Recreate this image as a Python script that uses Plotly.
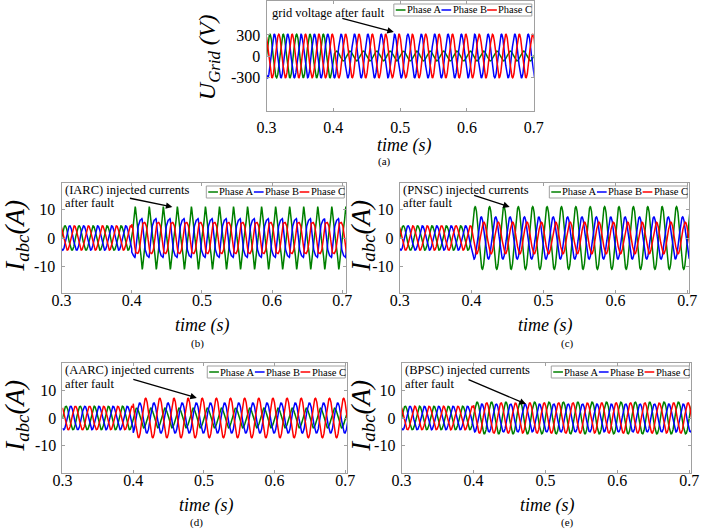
import numpy as np
import plotly.graph_objects as go

W, H = 708, 530
FONT = "Liberation Serif, Times New Roman, Times, serif"

# ---------------- data ----------------
f_grid = 50.0          # Hz
t_fault = 0.4          # s
t_first, t_last, t_step = 0.30, 0.7105, 0.0001

phase_names = ["Phase A", "Phase B", "Phase C"]
phase_colors = ["#008000", "#0000ff", "#ff0000"]
phase_angle_pre = [0.0, -120.0, 120.0]     # deg, all panels before fault

x_tick_vals = [0.3, 0.4, 0.5, 0.6, 0.7]
x_tick_text = ["0.3", "0.4", "0.5", "0.6", "0.7"]
v_tick_vals = [-300, 0, 300]
v_tick_text = ["-300", "0", "300"]
i_tick_vals = [-10, 0, 10]
i_tick_text = ["-10", "0", "10"]

# (a) grid voltage: amplitude before / after fault
volt_pre_amp = [311.0, 311.0, 311.0]
volt_post_amp = [70.0, 311.0, 311.0]
volt_post_angle = [0.0, -120.0, 120.0]

# currents before the fault (all strategies)
cur_pre_amp = [4.3, 4.3, 4.3]

# after-fault currents: harmonic orders, amplitudes (A), angles (deg) per phase
# (b) IARC
iarc_orders = [1, 3, 5, 7]
iarc_amp_A = [8.5, 1.6, 0.6, 0.3]
iarc_ang_A = [0.0, 180.0, 0.0, 180.0]
iarc_amp_B = [7.0, 0.88, 0.33, 0.165]
iarc_ang_B = [-135.7, 0.0, 180.0, 0.0]
iarc_amp_C = [6.0, 0.72, 0.27, 0.135]
iarc_ang_C = [125.5, 0.0, 180.0, 0.0]
# (c) PNSC
pnsc_amp = [11.0, 7.4, 5.6]
pnsc_ang = [0.0, -152.5, 142.4]
# (d) AARC
aarc_amp = [3.6, 5.5, 7.2]
aarc_ang = [0.0, -77.4, 131.8]
# (e) BPSC
bpsc_amp = [5.8, 5.1, 5.5]
bpsc_ang = [0.0, -120.0, 120.0]

# ---------------- waveform construction ----------------
t = np.arange(t_first, t_last, t_step)
theta = 2 * np.pi * f_grid * t
after = t >= t_fault


def harmonic_sum(orders, amps, angs):
    out = np.zeros_like(theta)
    for h, a, g in zip(orders, amps, angs):
        out += a * np.sin(h * theta + np.deg2rad(g))
    return out


def phase_wave(pre_amp, pre_ang, orders, amps, angs):
    pre = pre_amp * np.sin(theta + np.deg2rad(pre_ang))
    post = harmonic_sum(orders, amps, angs)
    return np.where(after, post, pre)


panel_waves = {
    "a": [phase_wave(volt_pre_amp[k], phase_angle_pre[k], [1], [volt_post_amp[k]], [volt_post_angle[k]]) for k in range(3)],
    "b": [phase_wave(cur_pre_amp[0], phase_angle_pre[0], iarc_orders, iarc_amp_A, iarc_ang_A),
          phase_wave(cur_pre_amp[1], phase_angle_pre[1], iarc_orders, iarc_amp_B, iarc_ang_B),
          phase_wave(cur_pre_amp[2], phase_angle_pre[2], iarc_orders, iarc_amp_C, iarc_ang_C)],
    "c": [phase_wave(cur_pre_amp[k], phase_angle_pre[k], [1], [pnsc_amp[k]], [pnsc_ang[k]]) for k in range(3)],
    "d": [phase_wave(cur_pre_amp[k], phase_angle_pre[k], [1], [aarc_amp[k]], [aarc_ang[k]]) for k in range(3)],
    "e": [phase_wave(cur_pre_amp[k], phase_angle_pre[k], [1], [bpsc_amp[k]], [bpsc_ang[k]]) for k in range(3)],
}

# ---------------- layout specification (pixels) ----------------
panels = [
    dict(key="a", box=(264, 1, 539, 111), xr=[0.3, 0.7], yr=[-785, 785], volt=True, xso=2,
         xt=(405, 145), cap=(385, 161), yt=(205, 57), ytsize=24,
         txt=["grid voltage after fault"], txt_pos=[(268, 13)],
         head=(0.4905, 343), tail=(-53, -14)),
    dict(key="b", box=(53, 183, 346, 293), xr=[0.3, 0.7056], yr=[-19.3, 19.3], volt=False, xso=-7,
         xt=(198, 325), cap=(193, 343), yt=(7, 236), ytsize=27,
         txt=["(IARC) injected currents", "after fault"], txt_pos=[(55, 190), (55, 203)],
         head=(0.458, 10.9), tail=(-44, -9)),
    dict(key="c", box=(401, 183, 699, 293), xr=[0.3, 0.7027], yr=[-19.3, 19.3], volt=False, xso=-7,
         xt=(551, 325), cap=(574, 343), yt=(363, 236), ytsize=27,
         txt=["(PNSC) injected currents", "after fault"], txt_pos=[(402, 190), (402, 203)],
         head=(0.453, 10.9), tail=(-37, -12)),
    dict(key="d", box=(54, 363, 347, 473), xr=[0.3, 0.7027], yr=[-20, 20], volt=False, xso=-7,
         xt=(202, 505), cap=(192, 522), yt=(7, 416), ytsize=27,
         txt=["(AARC) injected currents", "after fault"], txt_pos=[(55, 370), (55, 384)],
         head=(0.49, 7.3), tail=(-65, -19)),
    dict(key="e", box=(403, 363, 701, 473), xr=[0.3, 0.7027], yr=[-20, 20], volt=False, xso=-7,
         xt=(553, 505), cap=(574, 522), yt=(363, 416), ytsize=27,
         txt=["(BPSC) injected currents", "after fault"], txt_pos=[(404, 370), (404, 384)],
         head=(0.473, 5.1), tail=(-59, -25)),
]
captions = ["(a)", "(b)", "(c)", "(d)", "(e)"]


def px(xp):
    return xp / W


def py(yp):
    return 1 - yp / H


AX_COL = "#a0a0a0"
fig = go.Figure()
layout = dict(width=W, height=H, margin=dict(l=0, r=0, t=0, b=0), autosize=False,
              paper_bgcolor="white", plot_bgcolor="white", showlegend=False,
              font=dict(family=FONT, color="black"))
annotations = []
shapes = []

for i, p in enumerate(panels):
    n = "" if i == 0 else str(i + 1)
    l, tp, r, b = p["box"]
    for k in range(3):
        fig.add_trace(go.Scatter(x=t, y=panel_waves[p["key"]][k], mode="lines",
                                 line=dict(color=phase_colors[k], width=1.5),
                                 name=phase_names[k], xaxis="x" + n, yaxis="y" + n,
                                 hoverinfo="skip"))
    layout["xaxis" + n] = dict(domain=[px(l), px(r)], range=p["xr"], anchor="y" + n,
                               tickvals=x_tick_vals, ticktext=x_tick_text,
                               ticks="inside", ticklen=3, tickcolor=AX_COL,
                               showline=True, linecolor=AX_COL, linewidth=1, mirror="ticks",
                               showgrid=False, zeroline=False, ticklabelstandoff=p["xso"],
                               tickfont=dict(family=FONT, size=16, color="black"))
    layout["yaxis" + n] = dict(domain=[py(b), py(tp)], range=p["yr"], anchor="x" + n,
                               tickvals=v_tick_vals if p["volt"] else i_tick_vals,
                               ticktext=v_tick_text if p["volt"] else i_tick_text,
                               ticks="inside", ticklen=3, tickcolor=AX_COL,
                               showline=True, linecolor=AX_COL, linewidth=1, mirror="ticks",
                               showgrid=False, zeroline=False, ticklabelstandoff=2,
                               tickfont=dict(family=FONT, size=16, color="black"))
    # x title, caption, y title
    annotations.append(dict(x=px(p["xt"][0]), y=py(p["xt"][1]), xref="paper", yref="paper",
                            text="<i>time (s)</i>", showarrow=False,
                            font=dict(family=FONT, size=18), xanchor="center", yanchor="middle",
                            borderpad=0))
    annotations.append(dict(x=px(p["cap"][0]), y=py(p["cap"][1]), xref="paper", yref="paper",
                            text=captions[i], showarrow=False,
                            font=dict(family=FONT, size=11), xanchor="center", yanchor="middle",
                            borderpad=0))
    ytitle = "<i>U</i><sub><i>Grid</i></sub><i> (V)</i>" if p["volt"] else "<i>I</i><sub><i>abc</i></sub><i>(A)</i>"
    annotations.append(dict(x=px(p["yt"][0]), y=py(p["yt"][1]), xref="paper", yref="paper",
                            text=ytitle, showarrow=False, textangle=-90, borderpad=0,
                            font=dict(family=FONT, size=p["ytsize"]), xanchor="center", yanchor="middle"))
    # annotation text lines
    for s, (xx, yy) in zip(p["txt"], p["txt_pos"]):
        annotations.append(dict(x=px(xx), y=py(yy), xref="paper", yref="paper", text=s,
                                showarrow=False, font=dict(family=FONT, size=12.5),
                                xanchor="left", yanchor="middle"))
    # arrow
    annotations.append(dict(x=p["head"][0], y=p["head"][1], xref="x" + n, yref="y" + n,
                            text="", showarrow=True, ax=p["tail"][0], ay=p["tail"][1],
                            arrowhead=2, arrowsize=1, arrowwidth=1.3, arrowcolor="black",
                            standoff=0, startstandoff=0))
    # manual legend box
    lg_r = r - 2
    lg_l = lg_r - 142
    lg_t = tp + 3
    lg_b = lg_t + 12
    shapes.append(dict(type="rect", xref="paper", yref="paper", x0=px(lg_l), x1=px(lg_r),
                       y0=py(lg_b), y1=py(lg_t), line=dict(color=AX_COL, width=1),
                       fillcolor="white", layer="above"))
    ymid = (lg_t + lg_b) / 2
    for k in range(3):
        x0 = lg_l + 2 + 47 * k
        shapes.append(dict(type="line", xref="paper", yref="paper", x0=px(x0), x1=px(x0 + 10),
                           y0=py(ymid), y1=py(ymid), line=dict(color=phase_colors[k], width=1.5),
                           layer="above"))
        annotations.append(dict(x=px(x0 + 10.5), y=py(ymid), xref="paper", yref="paper",
                                text=phase_names[k], showarrow=False,
                                font=dict(family=FONT, size=10.5), xanchor="left", yanchor="middle",
                                borderpad=0))

layout["annotations"] = annotations
layout["shapes"] = shapes
fig.update_layout(**layout)
fig.write_html("out.html", post_script="document.body.style.margin='0px';",
               config={"displayModeBar": False})
